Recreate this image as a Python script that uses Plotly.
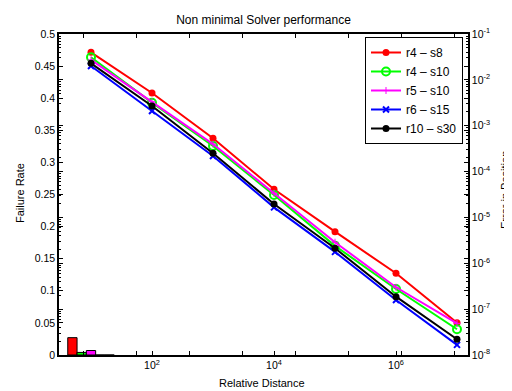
import plotly.graph_objects as go

# ---- data ----
distances = [1e1, 1e2, 1e3, 1e4, 1e5, 1e6, 1e7]
series_names = ["r4 – s8", "r4 – s10", "r5 – s10", "r6 – s15", "r10 – s30"]
err_r4_s8 = [3.99e-2, 5.16e-3, 5.32e-4, 4.11e-5, 4.9e-6, 6.05e-7, 5.07e-8]
err_r4_s10 = [3.1e-2, 3.18e-3, 3.61e-4, 3.09e-5, 2.4e-6, 2.75e-7, 3.64e-8]
err_r5_s10 = [2.72e-2, 3.34e-3, 3.98e-4, 3.36e-5, 2.88e-6, 3.0e-7, 4.9e-8]
err_r6_s15 = [2.0e-2, 2.1e-3, 2.19e-4, 1.66e-5, 1.77e-6, 1.58e-7, 1.66e-8]
err_r10_s30 = [2.29e-2, 2.69e-3, 2.5e-4, 1.96e-5, 2.13e-6, 1.87e-7, 2.2e-8]
failure_rates = [0.027, 0.004, 0.007, 0.0, 0.0]
bar_group = [1]

errors = [err_r4_s8, err_r4_s10, err_r5_s10, err_r6_s15, err_r10_s30]
colors = ["#ff0000", "#00ff00", "#ff00ff", "#0000ff", "#000000"]
markers = [
    dict(symbol="circle", size=7, color="#ff0000"),
    dict(symbol="circle-open", size=8, color="#00ff00", line=dict(width=2, color="#00ff00")),
    dict(symbol="cross-thin", size=5, color="#ff00ff", line=dict(width=1, color="#ff00ff")),
    dict(symbol="x-thin", size=6, color="#0000ff", line=dict(width=2, color="#0000ff")),
    dict(symbol="circle", size=7, color="#000000"),
]

FONT = "Liberation Sans, Arial, sans-serif"
TICK = 10.5

fig = go.Figure()

# lines (error in position, right log axis) on main subplot
for name, err, col, mk in zip(series_names, errors, colors, markers):
    fig.add_trace(go.Scatter(
        x=distances, y=err, name=name, mode="lines+markers",
        line=dict(color=col, width=2), marker=mk,
        xaxis="x", yaxis="y"))

# bars (failure rate, left linear axis) on overlay subplot
for name, rate, col in zip(series_names, failure_rates, colors):
    fig.add_trace(go.Bar(
        x=bar_group, y=[rate], name=name, marker=dict(color=col, line=dict(color="black", width=1)),
        xaxis="x2", yaxis="y2", showlegend=False, hoverinfo="skip"))

# geometry: the page body has an 8px default margin, so the figure sits at (8, 8)
OFF = 8
WIDTH, HEIGHT = 512 - OFF, 391 - OFF
PL, PT, PW, PH = 59, 34, 409, 321          # plot area in window pixels
L, T = PL - OFF, PT - OFF
R = WIDTH - L - PW
B = HEIGHT - T - PH
px_per_unit = 53.0
bar_center_px = 32.0
x2_lo = 1 - bar_center_px / px_per_unit
x2_hi = x2_lo + PW / px_per_unit
x2_tick0 = x2_lo + 24.0 / px_per_unit

axis_common = dict(ticks="inside", tickcolor="black", showgrid=False, zeroline=False,
                   automargin=False,
                   tickfont=dict(size=TICK, color="black", family=FONT))


def px_x(p):
    return (p - PL) / PW


def px_y(p):
    return 1 - (p - PT) / PH


fig.update_layout(
    width=WIDTH, height=HEIGHT,
    margin=dict(l=L, r=R, t=T, b=B, pad=0, autoexpand=False),
    paper_bgcolor="white", plot_bgcolor="white",
    font=dict(family=FONT, size=11, color="black"),
    title=dict(text="Non minimal Solver performance", x=0.5, xref="paper", xanchor="center",
               y=1 - (20 - OFF) / HEIGHT, yanchor="middle",
               font=dict(size=12, family=FONT, color="black")),
    barmode="group", bargap=0.123, bargroupgap=0,
    showlegend=True,
    legend=dict(x=px_x(463), xanchor="right", y=px_y(37), yanchor="top",
                bgcolor="white", bordercolor="black", borderwidth=1,
                font=dict(size=12, family=FONT, color="black"), tracegroupgap=0,
                itemwidth=30),
    xaxis=dict(type="log", range=[1 - 32 / 61, 7 + 11 / 61],
               tickvals=[1e2, 1e4, 1e6], ticktext=["10<sup>2</sup>", "10<sup>4</sup>", "10<sup>6</sup>"],
               ticklen=4, showline=True, linecolor="black", linewidth=1.5, mirror=True,
               **axis_common),
    xaxis2=dict(overlaying="x", side="bottom", range=[x2_lo, x2_hi],
                tick0=x2_tick0, dtick=1, ticklen=4, showticklabels=False,
                showline=False, mirror="ticks", **axis_common),
    yaxis=dict(type="log", range=[-8, -1], side="right",
               tickvals=[10 ** k for k in range(-8, 0)],
               ticktext=["10<sup>%d</sup>" % k for k in range(-8, 0)],
               ticklen=4, showline=True, linecolor="black", linewidth=1.5, mirror="ticks",
               minor=dict(ticks="inside", ticklen=2, tickcolor="black", showgrid=False,
                          tickvals=[m * 10 ** k for k in range(-8, -1) for m in range(2, 10)]),
               **axis_common),
    yaxis2=dict(range=[0, 0.5], dtick=0.05, tickformat="~g", overlaying="y", side="left",
                ticklen=4, showline=True, linecolor="black", linewidth=1.5, mirror="ticks",
                **axis_common),
    annotations=[
        dict(text="Failure Rate", xref="paper", yref="paper",
             x=px_x(20), y=px_y(193), xanchor="center", yanchor="middle",
             textangle=-90, showarrow=False, font=dict(size=11, family=FONT, color="black")),
        dict(text="Error in Position", xref="paper", yref="paper",
             x=px_x(505), y=px_y(190), xanchor="center", yanchor="middle",
             textangle=-90, showarrow=False, font=dict(size=11, family=FONT, color="black")),
        dict(text="Relative Distance", xref="paper", yref="paper",
             x=px_x(262), y=px_y(383), xanchor="center", yanchor="middle",
             showarrow=False, font=dict(size=11, family=FONT, color="black")),
    ],
)

fig.write_html("out.html")
